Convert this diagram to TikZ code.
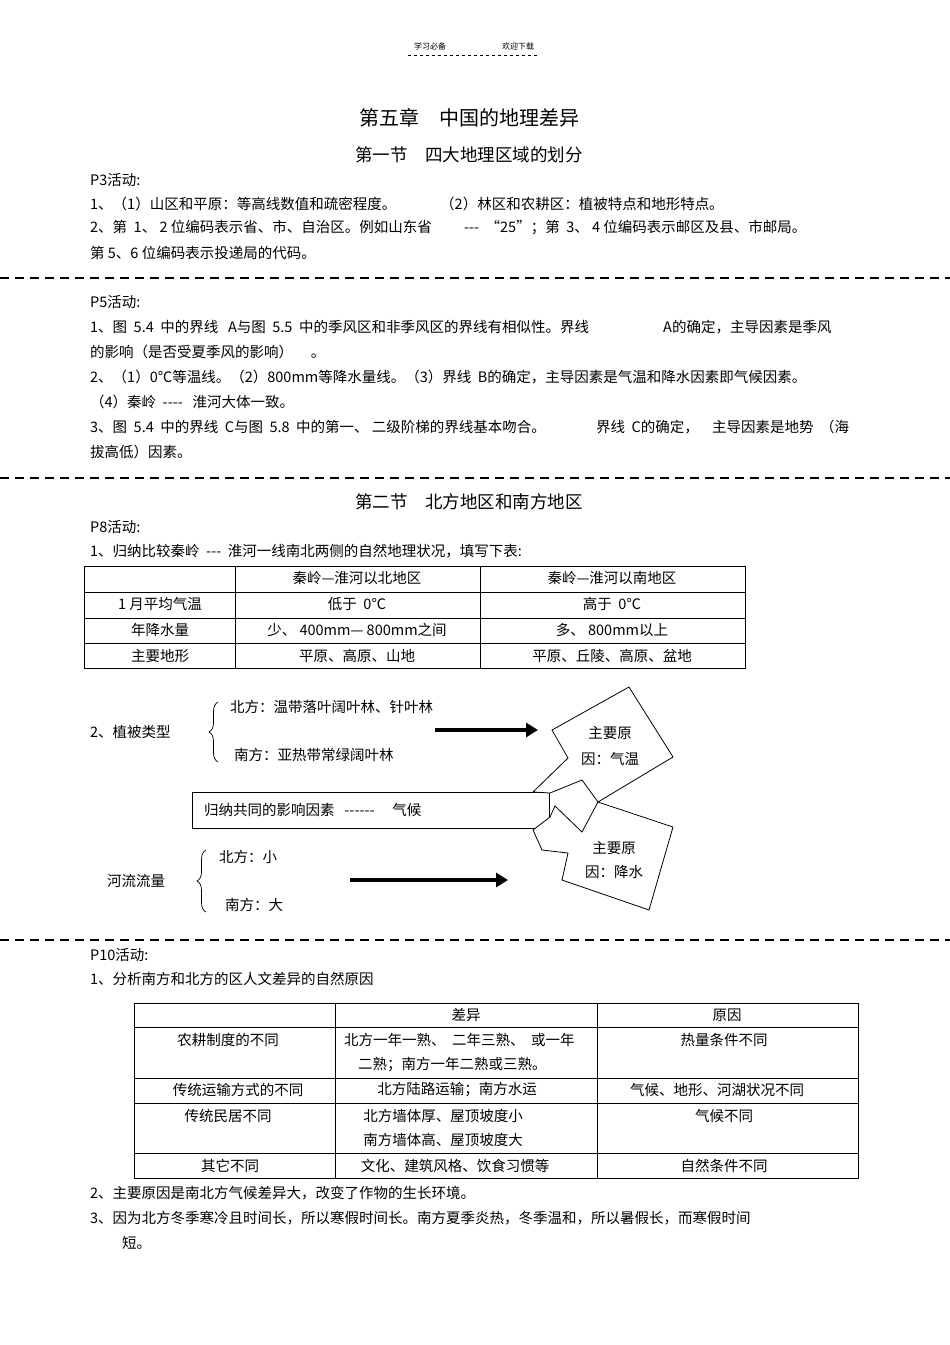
\documentclass[tikz,border=0pt]{standalone}
\usepackage{fontspec}
\setmainfont[Ligatures=NoCommon]{Noto Sans CJK SC}
\usetikzlibrary{decorations.pathreplacing,arrows.meta}
\newcommand{\dd}[1]{\foreach \i in {1,...,#1}{-\kern0.5pt}}
\begin{document}
\begin{tikzpicture}[x=1pt,y=-1pt,
  t/.style={anchor=west,inner sep=0pt,font=\fontsize{14.5}{16}\selectfont},
  c/.style={inner sep=0pt,font=\fontsize{14.5}{16}\selectfont},
  sep/.style={line width=1.6pt,dash pattern=on 9pt off 6pt},
  tb/.style={line width=0.8pt},
  bigarrow/.style={line width=3.5pt,-{Triangle[length=12pt,width=14pt]}},
  br/.style={decorate,decoration={brace,amplitude=9pt},line width=0.7pt}]
\useasboundingbox (0,0) rectangle (950,1345);
\fill[white] (0,0) rectangle (950,1345);
% header
\node[c,font=\fontsize{8}{10}\selectfont] (h1) at (430,46) {学习必备};
\node[c,font=\fontsize{8}{10}\selectfont] (h2) at (518,46) {欢迎下载};
\draw[dashed,line width=0.5pt] (408,55) -- (538,55);
% titles
\node[c,font=\fontsize{20}{22}\selectfont] (T1) at (469,118) {第五章\quad 中国的地理差异};
\node[c,font=\fontsize{17.5}{19}\selectfont] (T2) at (469,155) {第一节\quad 四大地理区域的划分};
% P3
\node[t] (a0) at (90,180) {P3活动:};
\node[t] (a1) at (90,204) {1、（1）山区和平原：等高线数值和疏密程度。};
\node[t] (a1b) at (440,204) {（2）林区和农耕区：植被特点和地形特点。};
\node[t] (a2) at (90,228) {2、第 \ 1、 2 位编码表示省、市、自治区。例如山东省 \qquad -{}-{}- \ “25”；第 \ 3、 4 位编码表示邮区及县、市邮局。};
\node[t] (a3) at (90,253) {第 5、6 位编码表示投递局的代码。};
\draw[sep] (0,278) -- (950,278);
% P5
\node[t] (b0) at (90,302) {P5活动:};
\node[t] (b1) at (90,327) {1、图 \ 5.4 \ 中的界线 \ \ A与图 \ 5.5 \ 中的季风区和非季风区的界线有相似性。界线};
\node[t] (b1b) at (663,327) {A的确定，主导因素是季风};
\node[t] (b2) at (90,352) {的影响（是否受夏季风的影响） \quad 。};
\node[t] (b3) at (90,377) {2、（1）0℃等温线。（2）800mm等降水量线。（3）界线 \ B的确定，主导因素是气温和降水因素即气候因素。};
\node[t] (b4) at (90,402) {（4）秦岭 \ -{}-{}-{}- \ \ 淮河大体一致。};
\node[t] (b5) at (90,427) {3、图 \ 5.4 \ 中的界线 \ C与图 \ 5.8 \ 中的第一、 二级阶梯的界线基本吻合。};
\node[t] (b5b) at (596,427) {界线 \ C的确定，};
\node[t] (b5c) at (712,427) {主导因素是地势 \ （海};
\node[t] (b6) at (90,452) {拔高低）因素。};
\draw[sep] (0,478) -- (950,478);
% Section 2
\node[c,font=\fontsize{17.5}{19}\selectfont] (T3) at (469,502) {第二节\quad 北方地区和南方地区};
\node[t] (c0) at (90,527) {P8活动:};
\node[t] (c1) at (90,551) {1、归纳比较秦岭 \ -{}-{}- \ 淮河一线南北两侧的自然地理状况，填写下表:};
% table 1
\draw[tb] (84,566) rectangle (745,668);
\foreach \yy in {592,618,643} \draw[tb] (84,\yy) -- (745,\yy);
\foreach \xx in {235,480} \draw[tb] (\xx,566) -- (\xx,668);
\node[c] (r0b) at (357,578) {秦岭—淮河以北地区};
\node[c] (r0c) at (612,578) {秦岭—淮河以南地区};
\node[c] (r1a) at (160,604) {1 月平均气温};
\node[c] (r1b) at (357,604) {低于 \ 0℃};
\node[c] (r1c) at (612,604) {高于 \ 0℃};
\node[c] (r2a) at (160,630) {年降水量};
\node[c] (r2b) at (357,630) {少、 400mm— 800mm之间};
\node[c] (r2c) at (612,630) {多、 800mm以上};
\node[c] (r3a) at (160,656) {主要地形};
\node[c] (r3b) at (357,656) {平原、高原、山地};
\node[c] (r3c) at (612,656) {平原、丘陵、高原、盆地};
% diagram
\node[t] (v0) at (90,732) {2、植被类型};
\draw[br] (218,762) -- (218,702);
\node[t] (v1) at (230,707) {北方：温带落叶阔叶林、针叶林};
\node[t] (v2) at (234,755) {南方：亚热带常绿阔叶林};
\coordinate (ar1s) at (435,730); \coordinate (ar1e) at (538,730);
\draw[bigarrow] (ar1s) -- (ar1e);
\node[draw,line width=0.8pt,minimum width=357pt,minimum height=36pt,inner sep=0pt] (box) at (370.5,810) {};
\node[t] (boxt) at (204,810) {归纳共同的影响因素 \ \ -{}-{}-{}-{}-{}- \quad 气候};
\draw[line width=0.8pt,fill=white] (629,687) -- (673,757) -- (598,802) -- (582,780) -- (550,793) -- (533,792) -- (568,758) -- (552,730) -- cycle;
\draw[line width=0.8pt,fill=white] (598,802) -- (673,827) -- (649,910) -- (562,880) -- (568,853) -- (542,850) -- (533,830) -- (550,817) -- (555,806) -- (582,832) -- cycle;
\node[c] (q1) at (610,733) {主要原};
\node[c] (q2) at (610,759) {因：气温};
\node[c] (q3) at (614,848) {主要原};
\node[c] (q4) at (614,872) {因：降水};
\node[t] (w0) at (107,881) {河流流量};
\draw[br] (206,912) -- (206,850);
\node[t] (w1) at (219,857) {北方：小};
\node[t] (w2) at (225,905) {南方：大};
\coordinate (ar2s) at (350,880); \coordinate (ar2e) at (508,880);
\draw[bigarrow] (ar2s) -- (ar2e);
\draw[sep] (0,940) -- (950,940);
% P10
\node[t] (d0) at (90,955) {P10活动:};
\node[t] (d1) at (90,979) {1、分析南方和北方的区人文差异的自然原因};
\draw[tb] (134,1003) rectangle (858,1178);
\foreach \yy in {1027,1078,1103,1153} \draw[tb] (134,\yy) -- (858,\yy);
\foreach \xx in {335,597} \draw[tb] (\xx,1003) -- (\xx,1178);
\node[c] (s0b) at (466,1015) {差异};
\node[c] (s0c) at (727,1015) {原因};
\node[c] (s1a) at (228,1040) {农耕制度的不同};
\node[t] (s1b) at (344,1040) {北方一年一熟、 \ 二年三熟、 \ 或一年};
\node[t] (s1b2) at (358,1065) {二熟；南方一年二熟或三熟。};
\node[c] (s1c) at (724,1040) {热量条件不同};
\node[c] (s2a) at (238,1090) {传统运输方式的不同};
\node[c] (s2b) at (457,1090) {北方陆路运输；南方水运};
\node[c] (s2c) at (717,1090) {气候、地形、河湖状况不同};
\node[c] (s3a) at (228,1116) {传统民居不同};
\node[c] (s3b) at (443,1116) {北方墙体厚、屋顶坡度小};
\node[c] (s3b2) at (443,1140) {南方墙体高、屋顶坡度大};
\node[c] (s3c) at (724,1116) {气候不同};
\node[c] (s4a) at (230,1166) {其它不同};
\node[c] (s4b) at (455,1166) {文化、建筑风格、饮食习惯等};
\node[c] (s4c) at (724,1166) {自然条件不同};
\node[t] (e1) at (90,1193) {2、主要原因是南北方气候差异大，改变了作物的生长环境。};
\node[t] (e2) at (90,1218) {3、因为北方冬季寒冷且时间长，所以寒假时间长。南方夏季炎热，冬季温和，所以暑假长，而寒假时间};
\node[t] (e3) at (122,1243) {短。};
\end{tikzpicture}
\end{document}
